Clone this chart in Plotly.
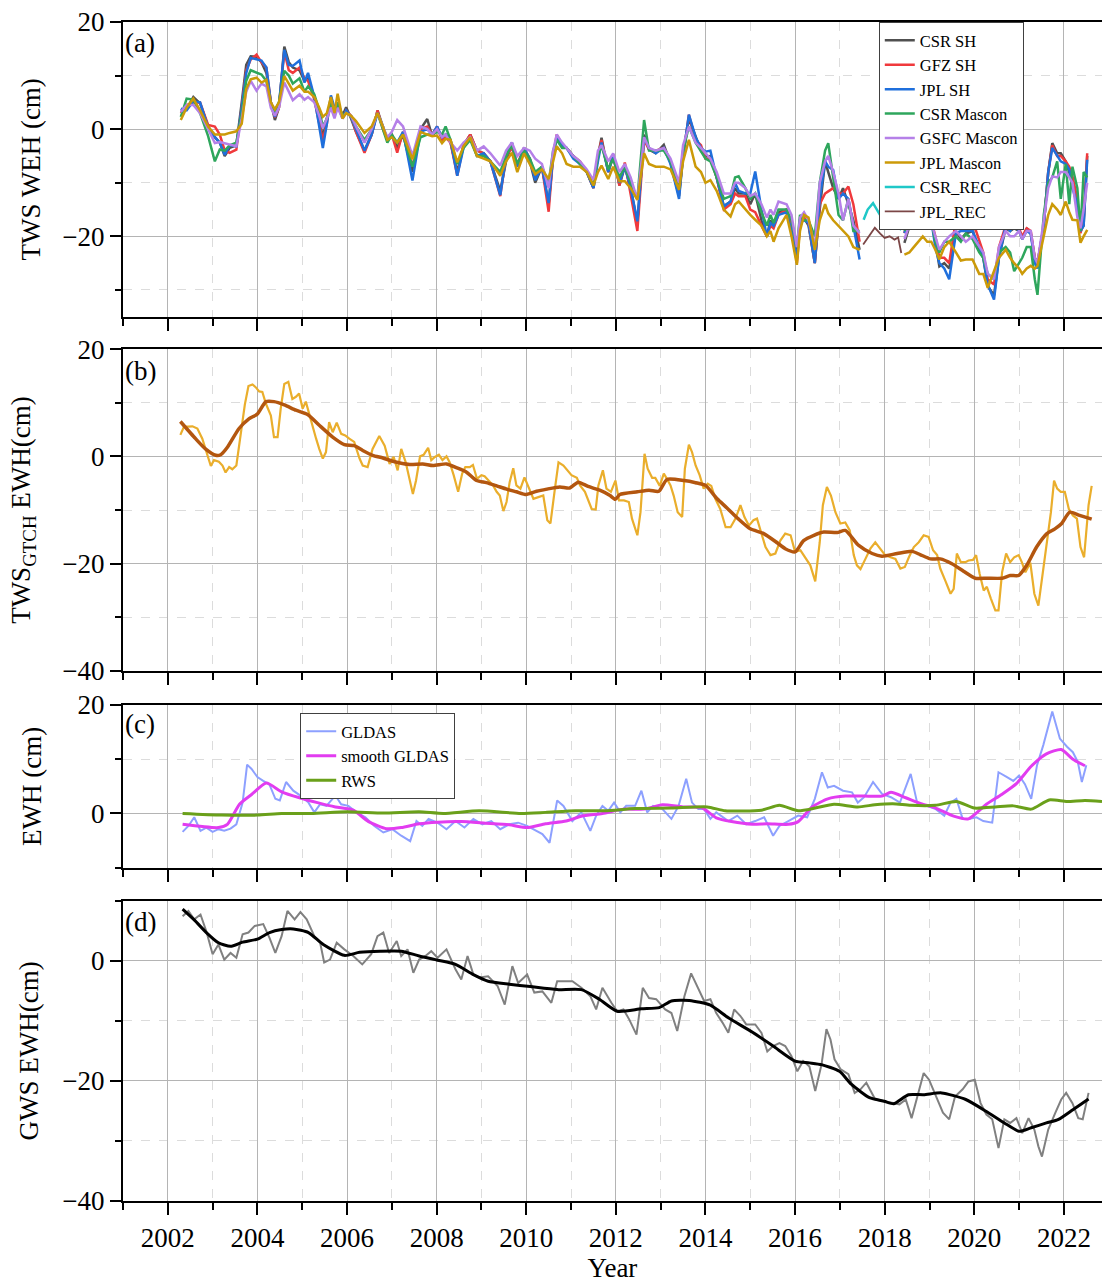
import plotly.graph_objects as go

FONT = "Liberation Serif"
XR = [2001, 2022.85]

# ---------------- Panel (a): TWS from GRACE / GRACE-FO solutions ----------------
t_grace = [2002.29, 2002.42, 2002.57, 2002.72, 2002.9, 2003.05, 2003.16, 2003.27, 2003.38, 2003.53,
           2003.65, 2003.75, 2003.85, 2003.98, 2004.09, 2004.2, 2004.3, 2004.39, 2004.48, 2004.6,
           2004.7, 2004.79, 2004.94, 2005.05, 2005.13, 2005.27, 2005.38, 2005.46, 2005.55, 2005.64,
           2005.72, 2005.79, 2005.9, 2005.98, 2006.09, 2006.2, 2006.39, 2006.55, 2006.68, 2006.8,
           2006.9, 2007.0, 2007.12, 2007.25, 2007.46, 2007.64, 2007.79, 2007.9, 2008.01, 2008.12,
           2008.2, 2008.31, 2008.46, 2008.6, 2008.75, 2008.9, 2009.05, 2009.2, 2009.42, 2009.55,
           2009.68, 2009.8, 2009.95, 2010.08, 2010.2, 2010.35, 2010.5, 2010.6, 2010.68, 2010.8,
           2010.9, 2011.05, 2011.2, 2011.35, 2011.5, 2011.6, 2011.68, 2011.83, 2011.94, 2012.08,
           2012.2, 2012.33, 2012.48, 2012.63, 2012.74, 2012.89, 2013.07, 2013.22, 2013.41, 2013.5,
           2013.63, 2013.78, 2013.9, 2014.0, 2014.11, 2014.25, 2014.41, 2014.56, 2014.66, 2014.74,
           2014.89, 2015.0, 2015.11, 2015.25, 2015.37, 2015.45, 2015.52, 2015.63, 2015.81, 2015.92,
           2016.04, 2016.11, 2016.2, 2016.3, 2016.44, 2016.55, 2016.67, 2016.74, 2016.85, 2016.97,
           2017.07, 2017.19, 2017.3, 2017.44]

csr_sh_g = [3.5, 3.8, 6.0, 4.8, 0.5, -1.5, -2.5, -5.0, -3.5, -3.0,
            5.0, 12.0, 13.6, 13.5, 12.5, 10.5, 5.0, 1.7, 4.0, 15.4,
            12.5, 11.5, 11.0, 9.0, 9.5, 6.0, 2.0, -1.5, 2.0, 5.5,
            3.5, 5.0, 2.5, 4.1, 2.0, -0.5, -4.0, -1.0, 3.5, 0.5,
            -2.0, -1.0, -3.5, -1.0, -8.0, 0.0, 1.9, -1.3, 0.0, -1.5,
            -1.0, -2.5, -8.0, -3.0, -1.0, -4.0, -4.5, -6.0, -11.5, -6.0,
            -2.6, -7.0, -3.5, -6.0, -10.0, -7.0, -14.0, -5.0, -1.5, -3.0,
            -3.5, -5.0, -6.5, -8.0, -11.0, -5.0, -1.6, -8.0, -4.7, -10.5,
            -7.0, -11.0, -17.5, -1.0, -3.8, -4.5, -2.9, -6.3, -12.5, -5.0,
            2.0, -1.5, -4.0, -5.1, -5.0, -9.0, -14.4, -13.5, -11.0, -12.0,
            -12.0, -14.0, -12.0, -17.0, -20.0, -17.0, -18.0, -15.5, -15.0, -18.0,
            -24.0, -18.0, -16.5, -18.0, -25.0, -15.0, -6.0, -8.0, -11.0, -13.0,
            -11.0, -14.0, -17.0, -22.5]
gfz_sh_g = [3.0, 4.5, 5.0, 5.0, 0.8, 0.5, -1.0, -4.0, -4.4, -3.8,
            4.0, 11.0, 13.0, 13.9, 12.5, 11.5, 5.0, 2.2, 4.0, 14.5,
            11.0, 10.5, 11.5, 9.5, 9.0, 5.5, 1.0, -2.0, 1.0, 6.0,
            3.0, 5.0, 2.0, 3.5, 2.5, -0.5, -4.4, -1.0, 3.5, 0.0,
            -2.0, -1.0, -4.4, -0.5, -7.0, 0.0, 0.5, -1.0, 0.5, -2.0,
            -1.5, -2.5, -8.7, -3.0, -1.0, -4.0, -4.5, -6.0, -12.5, -5.0,
            -3.5, -6.5, -3.5, -5.5, -9.0, -7.0, -15.4, -5.0, -1.0, -3.0,
            -3.5, -5.0, -6.0, -8.0, -11.0, -5.0, -2.0, -8.0, -5.0, -10.5,
            -6.2, -12.0, -19.0, -2.0, -3.8, -4.0, -3.5, -6.0, -12.0, -5.0,
            2.7, -2.0, -3.0, -5.5, -5.5, -9.0, -15.0, -14.0, -12.0, -12.5,
            -12.5, -15.0, -15.5, -18.0, -20.0, -18.0, -18.5, -16.0, -15.0, -18.0,
            -25.0, -18.0, -16.5, -17.5, -25.0, -14.0, -12.0, -11.6, -11.0, -12.0,
            -12.0, -10.7, -14.0, -21.0]
jpl_sh_g = [3.8, 3.5, 5.2, 5.0, 0.3, -1.5, -2.5, -4.8, -3.0, -3.2,
            4.0, 10.5, 13.3, 13.0, 12.8, 11.5, 5.0, 2.3, 4.5, 14.8,
            12.0, 11.8, 12.8, 8.7, 10.5, 6.0, 0.0, -3.5, 1.0, 6.3,
            4.0, 4.5, 2.0, 3.5, 2.3, 0.0, -4.0, -1.0, 3.0, 0.5,
            -2.0, -1.5, -2.5, -0.5, -9.6, -0.5, 0.0, -1.0, 0.5, -1.5,
            -1.0, -2.0, -8.7, -3.5, -1.5, -5.0, -4.5, -6.0, -12.3, -5.0,
            -2.5, -7.0, -3.5, -5.5, -9.5, -7.0, -13.8, -5.0, -1.5, -3.0,
            -3.5, -5.5, -6.5, -8.0, -11.0, -6.0, -2.5, -8.0, -5.0, -10.0,
            -7.0, -11.0, -17.2, -1.5, -3.5, -4.5, -3.5, -6.5, -13.0, -5.0,
            2.7, -1.5, -3.5, -4.2, -4.0, -9.0, -14.4, -13.5, -10.0, -11.5,
            -12.0, -12.0, -7.9, -15.0, -20.0, -17.5, -18.0, -16.0, -15.5, -19.0,
            -24.3, -17.0, -17.0, -17.5, -25.0, -13.0, -6.0, -7.0, -7.6, -13.0,
            -12.0, -13.0, -18.0, -24.3]
csr_mascon_g = [2.3, 5.7, 5.5, 3.0, -1.3, -6.0, -3.8, -4.0, -3.0, -2.5,
                3.0, 9.0, 11.0, 10.5, 10.2, 9.0, 4.5, 3.5, 5.0, 10.9,
                10.0, 8.5, 9.5, 7.0, 8.0, 6.5, 3.5, 0.5, 2.0, 5.0,
                3.0, 5.0, 2.5, 3.0, 2.5, 0.5, -2.0, 0.0, 3.0, 0.0,
                -2.5, -1.0, -2.5, -1.0, -7.0, -1.5, -1.0, -1.0, -0.5, -1.0,
                0.5, -2.0, -6.5, -3.5, -2.0, -5.0, -5.0, -6.0, -8.0, -5.0,
                -3.0, -6.5, -4.0, -5.5, -8.0, -7.0, -10.0, -4.0, -2.0, -3.5,
                -3.5, -5.0, -6.5, -8.0, -10.5, -5.0, -3.0, -7.5, -5.5, -9.0,
                -7.0, -10.0, -13.0, 1.7, -4.0, -4.0, -4.0, -6.0, -11.0, -4.0,
                0.5, -2.5, -4.0, -5.5, -6.0, -9.0, -13.0, -12.5, -9.0, -8.8,
                -11.0, -13.0, -12.0, -15.5, -18.0, -16.0, -17.5, -15.0, -15.0, -17.0,
                -22.0, -16.0, -17.0, -17.0, -20.0, -10.0, -4.0, -2.6, -9.0, -16.0,
                -17.0, -13.0, -19.0, -19.0]
gsfc_mascon_g = [3.2, 4.5, 4.5, 3.0, 0.0, -2.6, -2.4, -2.6, -2.8, -3.2,
                 2.0, 7.0, 9.0, 7.2, 8.5, 8.0, 4.0, 2.5, 4.0, 8.7,
                 7.0, 5.4, 6.5, 5.5, 6.0, 5.0, 2.5, 0.2, 2.0, 4.0,
                 2.0, 4.0, 2.0, 3.0, 2.5, 0.5, -2.5, 0.0, 3.0, 0.5,
                 -1.5, -0.5, 1.7, 0.5, -5.0, 0.5, 0.0, -1.0, 0.0, -1.5,
                 -1.0, -2.5, -4.0, -2.5, -1.5, -4.0, -3.2, -4.5, -6.8, -4.0,
                 -2.5, -5.0, -3.5, -4.0, -5.5, -6.5, -11.0, -4.0, -1.0, -2.5,
                 -3.5, -5.0, -6.0, -7.5, -9.5, -4.0, -3.0, -6.0, -4.5, -8.0,
                 -6.5, -9.0, -13.2, -1.5, -3.5, -4.0, -3.5, -5.5, -10.0, -3.0,
                 0.5, -2.5, -3.5, -4.5, -5.5, -8.0, -12.0, -12.0, -10.0, -10.0,
                 -11.0, -12.5, -12.0, -14.0, -16.5, -15.0, -16.0, -13.5, -14.0, -16.0,
                 -22.0, -16.5, -15.5, -17.0, -22.0, -10.0, -6.0, -5.0, -8.0, -12.0,
                 -17.0, -13.0, -18.0, -19.4]
jpl_mascon_g = [1.7, 4.0, 5.7, 3.5, 0.5, -1.0, -1.0, -1.0, -0.7, -0.4,
                1.0, 7.5, 9.3, 9.6, 8.7, 9.2, 5.0, 3.7, 5.0, 9.9,
                8.5, 7.2, 8.1, 7.0, 7.0, 6.0, 4.0, 2.3, 3.0, 6.0,
                3.0, 6.6, 2.0, 3.0, 2.5, 1.5, -0.7, 0.5, 3.0, 0.5,
                -2.0, -1.5, -2.5, -1.0, -5.6, -0.5, -1.0, -1.3, -1.2, -2.6,
                -1.8, -2.0, -6.2, -3.2, -1.5, -5.0, -5.5, -6.0, -8.7, -6.0,
                -4.4, -8.0, -4.5, -6.5, -8.4, -7.5, -9.3, -6.0, -3.2, -4.5,
                -6.5, -7.0, -7.0, -8.0, -10.5, -8.0, -6.8, -9.3, -7.0, -9.7,
                -9.7, -11.0, -13.2, -4.5, -6.5, -7.0, -7.0, -7.5, -11.3, -6.0,
                -2.0, -7.0, -8.0, -10.0, -9.5, -11.5, -15.0, -16.3, -14.0, -13.5,
                -15.0, -16.0, -16.9, -18.0, -20.0, -19.0, -21.0, -18.5, -16.0, -20.0,
                -25.3, -19.0, -16.0, -16.5, -22.5, -17.0, -14.0, -15.7, -17.0, -18.0,
                -19.0, -20.0, -22.0, -22.5]

t_gfo = [2018.44, 2018.55, 2018.63, 2018.75, 2018.85, 2018.95, 2019.04, 2019.13, 2019.22, 2019.33,
         2019.44, 2019.59, 2019.7, 2019.81, 2019.96, 2020.11, 2020.2, 2020.3, 2020.44, 2020.55,
         2020.7, 2020.8, 2020.89, 2021.0, 2021.07, 2021.17, 2021.26, 2021.35, 2021.41, 2021.55,
         2021.65, 2021.74, 2021.85, 2021.93, 2022.04, 2022.12, 2022.19, 2022.3, 2022.37, 2022.44,
         2022.52]
csr_sh_f = [-21.2, -18.0, -16.0, -17.0, -15.5, -17.0, -17.0, -21.0, -25.6, -25.0,
            -26.0, -19.0, -20.5, -19.5, -19.0, -22.4, -24.0, -29.3, -31.0, -24.0,
            -18.5, -19.0, -18.5, -19.0, -20.5, -18.5, -19.5, -24.0, -25.0, -18.0,
            -8.0, -2.6, -4.5, -4.5, -6.0, -8.0, -10.0, -14.0, -19.0, -18.0, -5.0]
gfz_sh_f = [-19.4, -15.0, -15.0, -16.5, -14.7, -17.0, -17.0, -20.0, -24.0, -24.0,
            -25.0, -16.9, -18.0, -18.0, -17.0, -21.0, -23.0, -28.0, -29.0, -22.0,
            -18.0, -17.5, -17.5, -18.5, -20.0, -18.5, -19.0, -24.0, -25.0, -18.0,
            -8.0, -3.0, -5.0, -5.0, -6.0, -7.0, -8.8, -13.0, -19.4, -17.0, -4.5]
jpl_sh_f = [-19.4, -16.0, -15.0, -13.5, -14.7, -18.0, -17.0, -22.0, -25.0, -26.0,
            -28.0, -19.4, -19.0, -19.0, -19.0, -22.0, -24.0, -29.0, -31.8, -24.0,
            -18.0, -19.0, -17.8, -19.0, -20.5, -19.0, -19.5, -25.0, -26.0, -18.0,
            -8.0, -3.5, -5.0, -6.0, -6.5, -7.5, -11.0, -14.0, -19.0, -18.0, -5.7]
csr_mascon_f = [-19.0, -18.0, -17.0, -16.0, -16.5, -18.0, -17.0, -21.0, -23.0, -21.0,
                -21.0, -20.0, -21.0, -19.5, -20.5, -23.0, -24.0, -27.0, -28.0, -23.0,
                -22.0, -23.0, -26.5, -25.0, -24.0, -22.0, -22.0, -28.0, -30.9, -16.0,
                -10.0, -9.0, -6.0, -13.0, -6.5, -14.0, -7.0, -11.0, -19.0, -8.0, -9.0]
gsfc_mascon_f = [-20.5, -18.0, -16.0, -17.0, -16.0, -18.0, -17.5, -20.0, -22.5, -21.0,
                 -20.0, -19.0, -20.0, -21.0, -20.0, -22.0, -23.0, -27.0, -28.0, -22.0,
                 -19.0, -20.0, -20.0, -19.0, -20.5, -19.0, -19.0, -24.0, -25.0, -17.0,
                 -11.0, -8.8, -9.0, -8.0, -8.0, -9.0, -10.0, -16.5, -18.5, -15.0, -10.0]
jpl_mascon_f = [-23.4, -23.0, -22.2, -21.0, -20.0, -21.0, -21.0, -22.5, -24.3, -22.0,
                -21.0, -23.0, -24.5, -24.3, -24.3, -27.0, -27.0, -29.6, -26.5, -24.0,
                -22.5, -24.0, -25.0, -26.0, -27.0, -26.0, -25.5, -26.0, -25.5, -20.0,
                -16.0, -14.0, -15.0, -16.0, -13.5, -15.5, -16.9, -17.0, -21.2, -20.0, -18.8]

t_csr_rec = [2017.53, 2017.62, 2017.74, 2017.85, 2017.93, 2018.02, 2018.11, 2018.22, 2018.37]
csr_rec = [-16.9, -15.0, -13.8, -15.5, -16.5, -16.5, -16.5, -17.5, -18.8]
t_jpl_rec = [2017.52, 2017.65, 2017.78, 2017.9, 2018.0, 2018.11, 2018.22, 2018.3, 2018.37]
jpl_rec = [-21.5, -20.0, -18.4, -19.5, -20.3, -20.0, -20.6, -20.2, -23.1]

# ---------------- Panel (b): TWS GTCH ----------------
t_b = [2002.28, 2002.36, 2002.55, 2002.66, 2002.77, 2002.84, 2002.96, 2003.03, 2003.14, 2003.22,
       2003.29, 2003.37, 2003.44, 2003.53, 2003.63, 2003.72, 2003.8, 2003.89, 2003.96, 2004.04,
       2004.11, 2004.19, 2004.3, 2004.37, 2004.45, 2004.52, 2004.6, 2004.69, 2004.78, 2004.86,
       2004.93, 2005.01, 2005.08, 2005.19, 2005.31, 2005.38, 2005.46, 2005.53, 2005.6, 2005.68,
       2005.77, 2005.87, 2005.96, 2006.05, 2006.16, 2006.28, 2006.35, 2006.46, 2006.57, 2006.72,
       2006.84, 2006.95, 2007.04, 2007.13, 2007.21, 2007.31, 2007.4, 2007.47, 2007.54, 2007.63,
       2007.71, 2007.81, 2007.88, 2007.96, 2008.05, 2008.13, 2008.22, 2008.29, 2008.38, 2008.48,
       2008.57, 2008.64, 2008.74, 2008.81, 2008.9, 2009.0, 2009.07, 2009.17, 2009.26, 2009.34,
       2009.41, 2009.49, 2009.56, 2009.63, 2009.71, 2009.78, 2009.87, 2009.96, 2010.06, 2010.16,
       2010.27, 2010.38, 2010.47, 2010.54, 2010.64, 2010.72, 2010.83, 2010.94, 2011.01, 2011.13,
       2011.2, 2011.31, 2011.39, 2011.46, 2011.55, 2011.61, 2011.71, 2011.79, 2011.89, 2011.99,
       2012.07, 2012.18, 2012.29, 2012.36, 2012.48, 2012.55, 2012.64, 2012.71, 2012.81, 2012.88,
       2012.98, 2013.07, 2013.14, 2013.22, 2013.29, 2013.38, 2013.48, 2013.54, 2013.63, 2013.7,
       2013.78, 2013.87, 2013.96, 2014.05, 2014.13, 2014.22, 2014.33, 2014.45, 2014.56, 2014.67,
       2014.78, 2014.87, 2014.97, 2015.07, 2015.15, 2015.24, 2015.34, 2015.45, 2015.56, 2015.67,
       2015.78, 2015.9, 2016.0, 2016.12, 2016.23, 2016.34, 2016.45, 2016.55, 2016.62, 2016.71,
       2016.8, 2016.9, 2017.01, 2017.12, 2017.22, 2017.31, 2017.38, 2017.46, 2017.57, 2017.68,
       2017.79, 2017.9, 2018.01, 2018.13, 2018.24, 2018.35, 2018.45, 2018.54, 2018.65, 2018.76,
       2018.87, 2018.98, 2019.08, 2019.17, 2019.24, 2019.35, 2019.47, 2019.54, 2019.61, 2019.7,
       2019.8, 2019.87, 2019.97, 2020.04, 2020.12, 2020.21, 2020.28, 2020.37, 2020.47, 2020.54,
       2020.62, 2020.71, 2020.8, 2020.89, 2020.99, 2021.06, 2021.14, 2021.25, 2021.34, 2021.43,
       2021.53, 2021.62, 2021.71, 2021.78, 2021.85, 2021.93, 2022.02, 2022.11, 2022.2, 2022.29,
       2022.37, 2022.45, 2022.55, 2022.62]
tws_gtch = [4.0, 5.5, 5.6, 5.2, 3.3, 1.4, -1.8, -0.7, -1.0, -1.7,
            -3.0, -2.0, -2.4, -1.7, 4.5, 9.7, 13.1, 13.4, 12.9, 12.1,
            12.0, 9.8, 7.6, 3.6, 3.6, 8.9, 13.5, 13.9, 10.7, 11.1,
            11.7, 8.9, 10.2, 6.7, 3.3, 1.4, -0.4, 0.8, 6.4, 4.5,
            6.3, 4.2, 3.9, 3.3, 2.7, -0.4, -1.7, -2.0, 1.4, 3.8,
            2.0, -1.4, -0.1, -2.6, 1.4, -1.1, -4.8, -7.0, -4.5, 0.0,
            0.3, 1.6, -0.7, -0.1, 0.3, -0.7, 0.0, -1.1, -3.5, -6.6,
            -3.2, -2.0, -2.0, -1.6, -4.2, -3.5, -3.7, -4.5, -5.4, -6.6,
            -7.3, -10.2, -8.5, -4.8, -2.2, -5.4, -6.0, -3.9, -6.0, -7.9,
            -7.6, -7.3, -11.9, -12.5, -6.0, -1.1, -1.7, -2.9, -3.5, -4.0,
            -5.4, -6.6, -8.2, -9.8, -9.9, -5.4, -2.6, -6.0, -6.6, -4.5,
            -8.2, -8.2, -8.5, -11.6, -14.7, -10.4, 0.5, -2.3, -4.0, -4.0,
            -5.5, -3.2, -4.2, -5.4, -7.3, -10.4, -11.3, -2.3, 2.2, 0.8,
            -1.7, -3.5, -6.0, -5.1, -5.5, -7.9, -9.8, -13.2, -13.2, -11.6,
            -9.1, -11.3, -12.9, -11.9, -11.6, -14.1, -16.9, -18.4, -18.1, -15.7,
            -14.4, -14.7, -17.8, -17.5, -18.8, -20.3, -23.3, -16.0, -9.1, -5.7,
            -7.3, -10.4, -12.5, -12.3, -13.8, -18.4, -20.3, -21.0, -19.1, -17.2,
            -16.0, -17.2, -18.4, -18.8, -19.1, -20.9, -20.6, -18.8, -16.9, -16.0,
            -14.7, -15.0, -17.5, -18.4, -20.9, -23.1, -25.6, -24.7, -18.1, -19.7,
            -19.7, -19.4, -19.3, -18.4, -21.9, -25.0, -24.3, -26.5, -28.7, -28.7,
            -21.6, -18.1, -19.7, -18.8, -18.4, -19.7, -21.6, -19.8, -25.6, -27.8,
            -21.6, -16.6, -10.4, -4.5, -6.0, -6.6, -6.6, -9.8, -11.0, -11.6,
            -16.9, -18.8, -9.1, -5.5]
ts_b = [2002.28, 2002.62, 2002.84, 2003.07, 2003.18, 2003.33, 2003.59, 2003.81, 2004.0, 2004.19,
        2004.37, 2004.6, 2004.86, 2005.12, 2005.38, 2005.68, 2005.94, 2006.16, 2006.35, 2006.57,
        2006.8, 2007.02, 2007.4, 2007.69, 2007.92, 2008.22, 2008.44, 2008.66, 2008.89, 2009.11,
        2009.34, 2009.56, 2009.78, 2010.0, 2010.23, 2010.46, 2010.75, 2010.97, 2011.16, 2011.38,
        2011.64, 2011.87, 2011.99, 2012.09, 2012.48, 2012.74, 2012.96, 2013.14, 2013.52, 2013.78,
        2014.0, 2014.26, 2014.48, 2014.74, 2015.0, 2015.3, 2015.6, 2015.78, 2016.0, 2016.19,
        2016.42, 2016.64, 2016.94, 2017.12, 2017.42, 2017.72, 2017.94, 2018.28, 2018.61, 2018.79,
        2019.02, 2019.24, 2019.5, 2019.76, 2020.02, 2020.28, 2020.62, 2020.8, 2020.99, 2021.17,
        2021.39, 2021.62, 2021.8, 2021.95, 2022.13, 2022.35, 2022.62]
tws_gtch_smooth = [6.5, 3.3, 1.4, 0.2, 0.3, 1.7, 5.2, 7.0, 7.9, 10.2,
                   10.2, 9.6, 8.6, 7.8, 5.8, 3.6, 2.2, 2.0, 1.1, 0.2,
                   -0.3, -0.9, -1.5, -1.4, -1.7, -1.4, -2.1, -2.9, -4.5, -4.9,
                   -5.5, -6.1, -6.6, -7.1, -6.5, -6.1, -5.7, -5.9, -4.8, -5.6,
                   -6.3, -7.3, -8.0, -7.1, -6.6, -6.3, -6.5, -4.3, -4.5, -4.9,
                   -5.4, -7.9, -9.6, -11.7, -13.5, -14.4, -16.1, -17.2, -17.8, -15.7,
                   -14.7, -14.1, -14.2, -13.8, -16.6, -18.1, -18.6, -18.1, -17.7, -18.3,
                   -19.1, -19.1, -20.0, -21.4, -22.7, -22.7, -22.7, -22.2, -22.2, -20.3,
                   -16.9, -14.4, -13.5, -12.5, -10.4, -11.0, -11.7]

# ---------------- Panel (c): GLDAS, smoothed GLDAS, RWS ----------------
t_c = [2002.33, 2002.46, 2002.59, 2002.73, 2002.86, 2003.0, 2003.13, 2003.26, 2003.4, 2003.53,
       2003.67, 2003.77, 2003.87, 2004.0, 2004.13, 2004.27, 2004.4, 2004.5, 2004.64, 2004.8,
       2004.96, 2005.14, 2005.27, 2005.4, 2005.54, 2005.74, 2005.87, 2006.03, 2006.21, 2006.41,
       2006.61, 2006.81, 2007.01, 2007.21, 2007.41, 2007.55, 2007.68, 2007.82, 2008.02, 2008.22,
       2008.42, 2008.62, 2008.82, 2009.02, 2009.22, 2009.42, 2009.62, 2009.82, 2010.02, 2010.22,
       2010.36, 2010.52, 2010.69, 2010.83, 2011.03, 2011.23, 2011.43, 2011.56, 2011.7, 2011.83,
       2011.96, 2012.1, 2012.23, 2012.43, 2012.57, 2012.7, 2012.83, 2013.04, 2013.24, 2013.4,
       2013.57, 2013.7, 2013.84, 2013.97, 2014.11, 2014.24, 2014.38, 2014.51, 2014.71, 2014.91,
       2015.11, 2015.31, 2015.51, 2015.65, 2015.85, 2016.07, 2016.27, 2016.44, 2016.6, 2016.73,
       2016.87, 2017.07, 2017.27, 2017.4, 2017.54, 2017.74, 2017.94, 2018.14, 2018.34, 2018.58,
       2018.74, 2018.94, 2019.14, 2019.33, 2019.47, 2019.6, 2019.74, 2019.87, 2020.05, 2020.2,
       2020.4, 2020.54, 2020.73, 2020.87, 2021.0, 2021.13, 2021.27, 2021.4, 2021.54, 2021.74,
       2021.91, 2022.07, 2022.2, 2022.31, 2022.4, 2022.5]
gldas = [-3.4, -2.3, -0.7, -3.2, -2.6, -3.4, -2.9, -3.2, -2.8, -2.0,
         2.0, 9.0, 8.2, 6.7, 6.0, 5.3, 2.7, 2.4, 5.8, 4.2,
         3.3, 2.0, 0.2, 1.7, 1.4, 3.3, 1.7, 1.4, 0.2, -0.7,
         -2.3, -3.5, -2.9, -4.1, -5.1, -1.4, -2.3, -1.0, -1.7, -2.9,
         -1.4, -2.6, -1.0, -2.0, -1.4, -2.9, -2.0, -1.7, -2.3, -3.2,
         -3.8, -5.4, 2.4, 1.4, -1.4, 0.2, -3.2, -0.4, 1.4, 0.5,
         2.0, 0.2, 1.4, 1.4, 4.2, 0.2, 1.4, 0.8, -1.0, 1.4,
         6.4, 2.0, 0.8, 0.8, -1.0, 0.2, -0.7, -1.4, -0.4, -2.0,
         -1.4, -0.7, -4.1, -2.3, -1.4, -0.4, -0.7, 2.7, 7.6, 4.8,
         5.1, 4.2, 3.9, 2.0, 3.0, 5.8, 3.6, 3.0, 2.0, 7.3,
         1.4, 1.4, 0.8, -0.4, 2.0, 2.7, -1.0, -1.0, -0.7, -1.4,
         -1.7, 7.6, 6.7, 6.0, 7.0, 5.4, 2.7, 8.9, 12.6, 18.8,
         13.8, 12.3, 11.3, 9.5, 5.8, 8.9]
ts_c = [2002.33, 2003.13, 2003.33, 2003.6, 2003.87, 2004.2, 2004.54, 2004.94, 2005.34, 2005.74,
        2006.14, 2006.48, 2006.88, 2007.21, 2007.61, 2008.02, 2008.55, 2009.09, 2009.62, 2010.02,
        2010.43, 2010.89, 2011.23, 2011.7, 2012.17, 2012.63, 2013.04, 2013.5, 2013.91, 2014.24,
        2014.58, 2015.05, 2015.38, 2015.85, 2016.07, 2016.38, 2016.73, 2017.13, 2017.54, 2017.94,
        2018.14, 2018.47, 2018.81, 2019.14, 2019.54, 2019.87, 2020.27, 2020.61, 2020.94, 2021.27,
        2021.61, 2021.94, 2022.2, 2022.47]
gldas_smooth = [-2.0, -2.6, -2.0, 1.7, 3.5, 5.6, 4.0, 2.9, 2.0, 1.2,
                0.6, -1.5, -2.8, -2.6, -1.9, -1.6, -1.5, -1.8, -2.1, -2.6,
                -1.9, -1.4, -0.5, 0.0, 0.8, 0.8, 1.6, 1.2, 1.1, -0.8,
                -1.5, -2.0, -1.9, -2.0, -1.5, 1.2, 2.7, 3.2, 3.2, 3.2,
                3.9, 2.9, 1.8, 1.0, -0.5, -1.0, 1.7, 3.5, 5.5, 8.7,
                11.0, 11.8, 10.0, 8.8]
t_rws = [2002.33, 2003.2, 2004.0, 2004.54, 2005.2, 2006.0, 2006.81, 2007.61, 2008.15, 2008.95,
         2009.88, 2010.43, 2011.1, 2011.76, 2012.43, 2013.24, 2014.04, 2014.44, 2015.25, 2015.65,
         2016.07, 2016.45, 2016.87, 2017.4, 2017.78, 2018.18, 2018.58, 2019.13, 2019.6, 2020.0,
         2020.47, 2020.87, 2021.27, 2021.67, 2022.07, 2022.47, 2022.85]
rws = [0.0, -0.3, -0.3, 0.0, 0.0, 0.3, 0.1, 0.3, 0.0, 0.5,
       0.0, 0.2, 0.5, 0.5, 0.9, 1.0, 1.2, 0.5, 0.6, 1.5,
       0.5, 1.0, 1.7, 1.2, 1.6, 1.8, 1.5, 1.5, 2.2, 1.0,
       1.2, 1.4, 0.8, 2.5, 2.2, 2.4, 2.2]

# ---------------- Panel (d): GWS ----------------
t_d = [2002.33, 2002.46, 2002.59, 2002.73, 2002.86, 2003.0, 2003.13, 2003.26, 2003.4, 2003.53,
       2003.67, 2003.8, 2003.94, 2004.13, 2004.27, 2004.4, 2004.54, 2004.67, 2004.83, 2004.96,
       2005.1, 2005.27, 2005.4, 2005.49, 2005.62, 2005.77, 2005.94, 2006.14, 2006.34, 2006.54,
       2006.68, 2006.81, 2006.94, 2007.11, 2007.21, 2007.35, 2007.48, 2007.61, 2007.75, 2007.88,
       2008.02, 2008.22, 2008.42, 2008.55, 2008.69, 2008.82, 2008.95, 2009.15, 2009.36, 2009.52,
       2009.69, 2009.82, 2010.02, 2010.18, 2010.36, 2010.56, 2010.69, 2010.85, 2011.03, 2011.23,
       2011.43, 2011.56, 2011.7, 2011.9, 2012.03, 2012.17, 2012.3, 2012.46, 2012.6, 2012.74,
       2012.9, 2013.1, 2013.24, 2013.37, 2013.53, 2013.68, 2013.84, 2013.97, 2014.11, 2014.24,
       2014.38, 2014.51, 2014.64, 2014.78, 2014.91, 2015.11, 2015.25, 2015.38, 2015.51, 2015.65,
       2015.78, 2015.92, 2016.05, 2016.18, 2016.32, 2016.45, 2016.59, 2016.7, 2016.79, 2016.88,
       2017.02, 2017.19, 2017.33, 2017.46, 2017.59, 2017.79, 2017.99, 2018.17, 2018.33, 2018.47,
       2018.6, 2018.74, 2018.87, 2018.99, 2019.14, 2019.3, 2019.44, 2019.57, 2019.74, 2019.87,
       2020.01, 2020.14, 2020.27, 2020.4, 2020.54, 2020.67, 2020.8, 2020.94, 2021.07, 2021.21,
       2021.34, 2021.43, 2021.51, 2021.65, 2021.81, 2021.94, 2022.05, 2022.19, 2022.32, 2022.42,
       2022.55]
gws = [7.4, 8.3, 6.9, 7.7, 4.9, 1.1, 2.7, 0.2, 1.3, 0.5,
       4.4, 4.7, 5.8, 6.1, 3.8, 1.3, 4.1, 8.3, 6.9, 8.1,
       6.9, 4.1, 3.0, -0.3, 0.2, 3.0, 1.9, 0.8, -0.6, 1.1,
       4.1, 4.7, 1.3, 3.3, 0.8, 1.9, -2.0, 0.2, 0.8, 1.6,
       0.5, 1.9, -1.4, -3.1, 0.8, -2.3, -2.8, -2.6, -4.2, -7.3,
       -0.9, -3.7, -2.3, -5.3, -5.1, -7.0, -3.4, -3.4, -3.4, -4.5,
       -5.9, -8.1, -4.5, -7.0, -8.4, -8.1, -9.8, -12.3, -4.5, -6.2,
       -6.4, -8.1, -8.7, -11.7, -5.9, -2.1, -4.8, -6.7, -6.4, -8.7,
       -10.3, -12.0, -8.1, -9.2, -10.6, -10.6, -12.0, -15.1, -14.2, -13.7,
       -14.2, -15.9, -18.4, -16.7, -17.6, -21.7, -17.3, -11.4, -13.1, -16.4,
       -18.1, -18.9, -22.0, -21.4, -20.3, -23.1, -23.4, -23.7, -23.9, -23.1,
       -26.2, -22.3, -18.7, -19.8, -22.6, -25.3, -26.4, -22.6, -21.4, -20.1,
       -19.8, -23.7, -25.6, -26.4, -31.2, -26.4, -27.0, -26.2, -28.7, -26.2,
       -28.1, -30.9, -32.6, -28.1, -25.3, -23.1, -22.0, -23.7, -26.2, -26.4,
       -22.0]
ts_d = [2002.33, 2002.59, 2002.86, 2003.13, 2003.4, 2003.67, 2004.0, 2004.27, 2004.54, 2004.8,
        2005.14, 2005.47, 2005.94, 2006.28, 2006.74, 2007.21, 2007.61, 2008.02, 2008.42, 2008.82,
        2009.15, 2009.62, 2010.09, 2010.69, 2011.23, 2011.63, 2012.03, 2012.57, 2012.97, 2013.24,
        2013.64, 2014.11, 2014.51, 2015.05, 2015.51, 2016.0, 2016.32, 2016.59, 2016.99, 2017.26,
        2017.66, 2017.99, 2018.2, 2018.53, 2018.87, 2019.27, 2019.81, 2020.27, 2020.67, 2021.0,
        2021.27, 2021.61, 2021.88, 2022.2, 2022.55]
gws_smooth = [8.6, 6.8, 4.7, 3.0, 2.4, 3.1, 3.6, 4.7, 5.2, 5.3,
              4.7, 2.7, 0.9, 1.4, 1.6, 1.6, 0.8, 0.1, -0.6, -2.3,
              -3.4, -3.9, -4.3, -4.8, -4.8, -6.4, -8.4, -8.0, -7.8, -6.7,
              -6.6, -7.4, -9.5, -11.9, -14.2, -16.7, -17.0, -17.3, -18.4, -20.6,
              -22.8, -23.4, -23.8, -22.3, -22.3, -22.0, -23.1, -25.1, -27.0, -28.4,
              -27.8, -27.0, -26.4, -24.8, -23.0]

# ---------------- Figure ----------------
fig = go.Figure()


def add_line(x, y, color, width, name=None, xa="x", ya="y", legend=None, shape="linear"):
    fig.add_trace(go.Scatter(
        x=x, y=y, mode="lines", name=name,
        line=dict(color=color, width=width, shape=shape, smoothing=0.6 if shape == "spline" else None),
        showlegend=name is not None, legend=legend,
        xaxis=xa, yaxis=ya, hoverinfo="skip"))


def joined(a, b):
    return list(a) + [None] + list(b)


tt = joined(t_grace, t_gfo)
add_line(tt, joined(csr_sh_g, csr_sh_f), "#505050", 2.5, "CSR SH", legend="legend")
add_line(tt, joined(gfz_sh_g, gfz_sh_f), "#f0393c", 2.5, "GFZ SH", legend="legend")
add_line(tt, joined(jpl_sh_g, jpl_sh_f), "#1f6fdc", 2.5, "JPL SH", legend="legend")
add_line(tt, joined(csr_mascon_g, csr_mascon_f), "#2ea65c", 2.5, "CSR Mascon", legend="legend")
add_line(tt, joined(gsfc_mascon_g, gsfc_mascon_f), "#b580e8", 2.5, "GSFC Mascon", legend="legend")
add_line(tt, joined(jpl_mascon_g, jpl_mascon_f), "#cc9a08", 2.5, "JPL Mascon", legend="legend")
add_line(t_csr_rec, csr_rec, "#1fc8c8", 2.5, "CSR_REC", legend="legend")
add_line(t_jpl_rec, jpl_rec, "#7b4646", 1.8, "JPL_REC", legend="legend")

add_line(t_b, tws_gtch, "#eaae2c", 2.2, xa="x2", ya="y2")
add_line(ts_b, tws_gtch_smooth, "#b3560f", 3.5, xa="x2", ya="y2", shape="spline")

add_line(t_c, gldas, "#8da0ff", 2.0, "GLDAS", xa="x3", ya="y3", legend="legend2")
add_line(ts_c, gldas_smooth, "#e23cf0", 3.0, "smooth GLDAS", xa="x3", ya="y3", legend="legend2", shape="spline")
add_line(t_rws, rws, "#6aa01a", 3.0, "RWS", xa="x3", ya="y3", legend="legend2", shape="spline")

add_line(t_d, gws, "#808080", 2.0, xa="x4", ya="y4")
add_line(ts_d, gws_smooth, "#000000", 3.0, xa="x4", ya="y4", shape="spline")

TF = dict(family=FONT, size=27, color="black")
GRID = "#b4b4b4"
MGRID = "#dcdcdc"


def xaxis(anchor, labels, title=None):
    d = dict(range=XR, domain=[0, 1], anchor=anchor, tickmode="linear", tick0=2002, dtick=2,
             ticks="outside", ticklen=12, tickwidth=2, tickcolor="black",
             showline=True, linewidth=2, linecolor="black", mirror=True,
             showgrid=True, gridcolor=GRID, gridwidth=1, zeroline=False,
             showticklabels=labels, tickfont=TF,
             minor=dict(tick0=2001, dtick=1, ticks="outside", ticklen=7, tickwidth=2,
                        tickcolor="black", showgrid=True, gridcolor=MGRID, griddash="dash", gridwidth=1))
    if title:
        d["title"] = dict(text=title, font=TF, standoff=6)
    return d


def yaxis(domain, rng, anchor, title, standoff):
    return dict(domain=domain, range=rng, anchor=anchor, tickmode="linear", tick0=0, dtick=20,
                ticks="outside", ticklen=11, tickwidth=2, tickcolor="black",
                showline=True, linewidth=2, linecolor="black", mirror=False,
                showgrid=True, gridcolor=GRID, gridwidth=1, zeroline=False,
                tickfont=TF, title=dict(text=title, font=TF, standoff=standoff),
                minor=dict(tick0=0, dtick=10, ticks="outside", ticklen=6, tickwidth=2,
                           tickcolor="black", showgrid=True, gridcolor=MGRID, griddash="dash", gridwidth=1))


def top_ticks(over, anchor):
    return dict(range=XR, overlaying=over, anchor=anchor, side="top", tickmode="linear", tick0=2002, dtick=2,
                ticks="inside", ticklen=8, tickwidth=2, tickcolor="black", showline=False,
                showgrid=False, zeroline=False, showticklabels=False,
                minor=dict(tick0=2001, dtick=1, ticks="inside", ticklen=6, tickwidth=2,
                           tickcolor="black", showgrid=False))


def right_ticks(over, anchor, rng):
    return dict(range=rng, overlaying=over, anchor=anchor, side="right", tickmode="linear", tick0=0, dtick=20,
                ticks="inside", ticklen=8, tickwidth=2, tickcolor="black", showline=False,
                showgrid=False, zeroline=False, showticklabels=False,
                minor=dict(tick0=0, dtick=10, ticks="inside", ticklen=4, tickwidth=2,
                           tickcolor="black", showgrid=False))


RA, RB, RC, RD = [-35, 20], [-40, 20], [-10, 20], [-40, 10]
LEG_FONT = dict(family=FONT, size=16.5, color="black")

fig.update_layout(
    width=1102, height=1285,
    margin=dict(l=123, r=0, t=22, b=84),
    paper_bgcolor="white", plot_bgcolor="white",
    font=dict(family=FONT, color="black"),
    xaxis=xaxis("y", False),
    xaxis2=xaxis("y2", False),
    xaxis3=xaxis("y3", False),
    xaxis4=xaxis("y4", True, "Year"),
    yaxis=yaxis([0.75, 1.0], RA, "x", "TWS WEH (cm)", 14),
    yaxis2=yaxis([0.4495, 0.7226], RB, "x2", "TWS<sub>GTCH</sub> EWH(cm)", 24),
    yaxis3=yaxis([0.2827, 0.4207], RC, "x3", "EWH (cm)", 28),
    yaxis4=yaxis([0.0, 0.2547], RD, "x4", "GWS EWH(cm)", 16),
    xaxis5=top_ticks("x2", "y2"),
    xaxis6=top_ticks("x3", "y3"),
    xaxis7=top_ticks("x4", "y4"),
    yaxis5=right_ticks("y2", "x2", RB),
    yaxis6=right_ticks("y3", "x3", RC),
    yaxis7=right_ticks("y4", "x4", RD),
    legend=dict(x=0.772, y=1.0, xanchor="left", yanchor="top", bgcolor="white",
                bordercolor="#404040", borderwidth=1, tracegroupgap=0, font=LEG_FONT),
    legend2=dict(x=0.181, y=0.4139, xanchor="left", yanchor="top", bgcolor="white",
                 bordercolor="#404040", borderwidth=1, tracegroupgap=0, font=LEG_FONT),
    showlegend=True,
)

labels = [("(a)", "x domain", "y domain"), ("(b)", "x2 domain", "y2 domain"),
          ("(c)", "x3 domain", "y3 domain"), ("(d)", "x4 domain", "y4 domain")]
for txt, xr, yr in labels:
    fig.add_annotation(text=txt, xref=xr, yref=yr, x=0.0, y=0.985, xanchor="left", yanchor="top",
                       showarrow=False, font=TF)

fig.write_html("out.html")
